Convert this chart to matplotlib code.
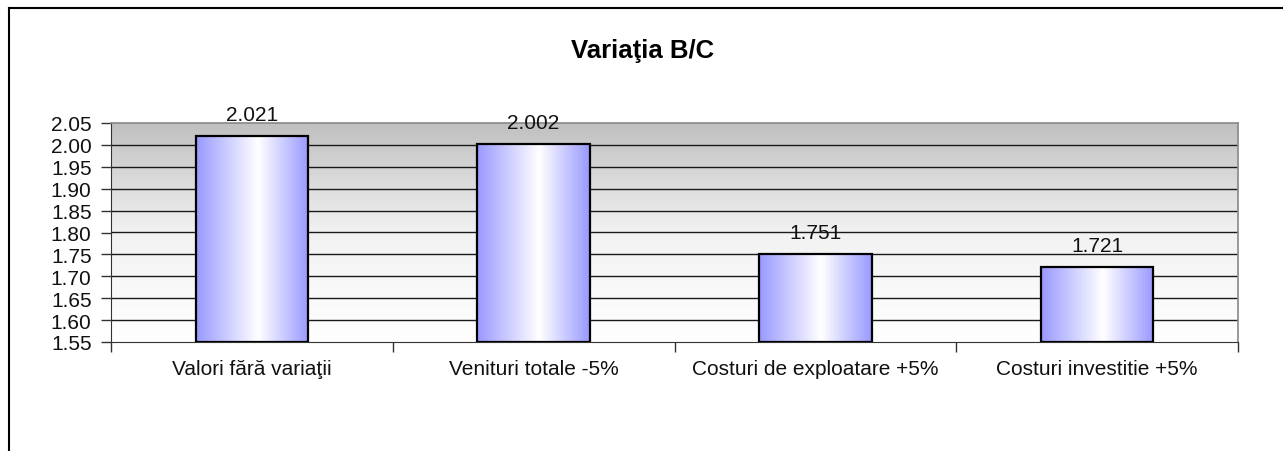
import matplotlib.pyplot as plt
import numpy as np
from matplotlib.colors import LinearSegmentedColormap
from matplotlib.lines import Line2D
from matplotlib.ticker import FormatStrFormatter, MultipleLocator

categories = ["Valori fără variaţii", "Venituri totale -5%", "Costuri de exploatare +5%", "Costuri investitie +5%"]
values = [2.021, 2.002, 1.751, 1.721]
value_labels = ["2.021", "2.002", "1.751", "1.721"]
title = "Variaţia B/C"

plt.rcParams["font.family"] = ["Liberation Sans", "DejaVu Sans"]

W, H = 1283, 452
FS = 15
fig = plt.figure(figsize=(W / 100, H / 100), dpi=100)
ax = fig.add_axes([111 / W, 1 - 343 / H, (1238 - 111) / W, (343 - 124) / H])

ymin, ymax = 1.55, 2.05
ax.set_ylim(ymin, ymax)
ax.set_xlim(-0.5, len(categories) - 0.5)

# plot area background: gray at top fading to white
bg = LinearSegmentedColormap.from_list("bg", ["#ffffff", "#f2f2f2", "#c0c0c0"])
grad = np.linspace(0, 1, 256).reshape(-1, 1)
ax.imshow(grad, cmap=bg, aspect="auto", origin="lower",
          extent=[-0.5, len(categories) - 0.5, ymin, ymax], zorder=0)

for y in np.arange(1.60, 2.05, 0.05):
    ax.axhline(y, color="#1a1a1a", lw=1.0, zorder=1)

bar_cmap = LinearSegmentedColormap.from_list(
    "bar", [(0, "#9999ff"), (0.55, "#ffffff"), (1, "#9999ff")])
hgrad = np.linspace(0, 1, 256).reshape(1, -1)
x = np.arange(len(categories))
bars = ax.bar(x, np.array(values) - ymin, bottom=ymin, width=0.4,
              facecolor="none", edgecolor="black", linewidth=1.6, zorder=3)
for b in bars:
    x0, w = b.get_x(), b.get_width()
    im = ax.imshow(hgrad, cmap=bar_cmap, aspect="auto",
                   extent=[x0, x0 + w, ymin, b.get_y() + b.get_height()], zorder=2)
    im.set_clip_path(b)

for xi, v, lab in zip(x, values, value_labels):
    ax.text(xi, v + 0.027, lab, ha="center", va="bottom", fontsize=FS, color="#111111")

ax.yaxis.set_major_locator(MultipleLocator(0.05))
ax.yaxis.set_major_formatter(FormatStrFormatter("%.2f"))
ax.set_xticks(np.arange(-0.5, len(categories), 1.0))
ax.set_xticklabels([])
ax.set_xticks(x, minor=True)
ax.set_xticklabels(categories, minor=True)
ax.tick_params(axis="x", which="minor", length=0, pad=12, labelsize=FS, labelcolor="#111111")
ax.tick_params(axis="x", which="major", length=7, direction="out", width=1, color="#333333")
ax.tick_params(axis="y", length=7, direction="out", width=1, labelsize=FS, pad=7,
               color="#333333", labelcolor="#111111")

ax.spines["left"].set_color("#333333")
ax.spines["bottom"].set_color("#333333")
ax.spines["top"].set_color("#888888")
ax.spines["right"].set_color("#888888")
ax.spines["top"].set_linewidth(1.2)
ax.spines["right"].set_linewidth(1.2)

fig.text(643 / W, 1 - 51 / H, title, ha="center", va="center", fontsize=18.5, fontweight="bold")

# chart frame (left and top edges visible)
fig.add_artist(Line2D([8.5 / W, 8.5 / W], [0, 1 - 9 / H], color="black", lw=1.5))
fig.add_artist(Line2D([8.5 / W, 1], [1 - 9 / H, 1 - 9 / H], color="black", lw=1.5))

fig.savefig("out.png", dpi=100)
